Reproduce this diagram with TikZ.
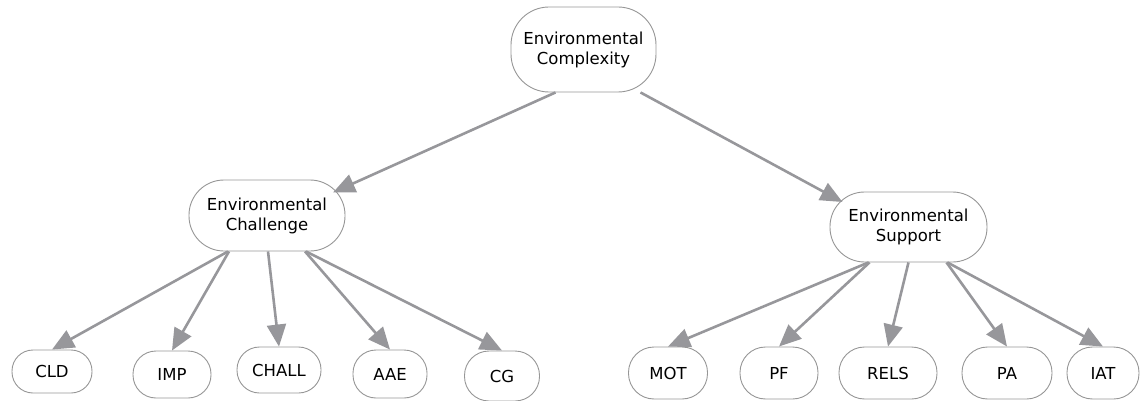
\documentclass[tikz,border=0pt]{standalone}
\usepackage{fontspec}
\setmainfont{DejaVu Sans}
\usetikzlibrary{arrows.meta}

\definecolor{edgegray}{RGB}{151,151,155}
\definecolor{rimgray}{RGB}{150,150,150}

\tikzset{
  pill/.style={draw=rimgray, line width=0.9pt, rounded corners=#1, inner sep=0pt,
    align=center, font=\fontsize{16.5}{20}\selectfont},
  pill/.default=23pt,
  link/.style={draw=edgegray, line width=2.6pt, -{Triangle[length=22pt,width=19pt]}}
}

\begin{document}
\begin{tikzpicture}[x=1pt, y=-1pt]
    \useasboundingbox (0,0) rectangle (1140,401);
    \node[pill=38pt, minimum width=145pt, minimum height=85pt] (cplx) at (583.5,49.5) {Environmental\\Complexity};
    \node[pill=35pt, minimum width=156pt, minimum height=71pt] (chal) at (267,215.5) {Environmental\\Challenge};
    \node[pill=34.5pt, minimum width=157pt, minimum height=70pt] (supp) at (908.5,227) {Environmental\\Support};
    \node[pill=21pt, minimum width=80pt, minimum height=43pt] (cld) at (52,371.5) {CLD};
    \node[pill, minimum width=78pt, minimum height=47pt] (imp) at (172,374.5) {IMP};
    \node[pill=22.5pt, minimum width=84pt, minimum height=46pt] (chall) at (279,370) {CHALL};
    \node[pill, minimum width=74pt, minimum height=48pt] (aae) at (390,374) {AAE};
    \node[pill=24.5pt, minimum width=75pt, minimum height=50pt] (cg) at (502,376) {CG};
    \node[pill=25.5pt, minimum width=79pt, minimum height=52pt] (mot) at (668,373) {MOT};
    \node[pill=25.5pt, minimum width=78pt, minimum height=52pt] (pf) at (779,373) {PF};
    \node[pill=25.5pt, minimum width=98pt, minimum height=52pt] (rels) at (888,373) {RELS};
    \node[pill=25.5pt, minimum width=90pt, minimum height=52pt] (pa) at (1007,373) {PA};
    \node[pill=25.5pt, minimum width=72pt, minimum height=52pt] (iat) at (1103,373) {IAT};
    \draw[link] ([xshift=-28pt]cplx.south) -- ([xshift=66pt,yshift=23pt]chal.center);
    \draw[link] ([xshift=57pt]cplx.south) -- ([xshift=-66pt,yshift=25pt]supp.center);
    \draw[link] ([xshift=-39pt]chal.south) -- (cld.north);
    \draw[link] ([xshift=-38pt]chal.south) -- (imp.north);
    \draw[link] ([xshift=1pt]chal.south) -- (chall.north);
    \draw[link] ([xshift=38pt]chal.south) -- (aae.north);
    \draw[link] ([xshift=39pt]chal.south) -- (cg.north);
    \draw[link] ([xshift=-40pt]supp.south) -- (mot.north);
    \draw[link] ([xshift=-39pt]supp.south) -- (pf.north);
    \draw[link] ([xshift=0pt]supp.south) -- (rels.north);
    \draw[link] ([xshift=38pt]supp.south) -- (pa.north);
    \draw[link] ([xshift=39pt]supp.south) -- (iat.north);
\end{tikzpicture}
\end{document}
